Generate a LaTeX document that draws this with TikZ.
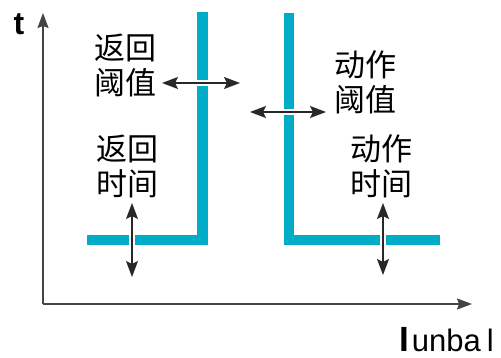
\documentclass[tikz,border=0pt]{standalone}
\usepackage{fontspec}
\setmainfont{Liberation Sans}
\newfontfamily\cjk{Noto Sans CJK SC}
\usetikzlibrary{arrows.meta}
\definecolor{cyanline}{RGB}{0,172,200}
\definecolor{axisgray}{RGB}{68,68,68}
\definecolor{arrowgray}{RGB}{40,40,40}
\begin{document}
\begin{tikzpicture}[x=1pt,y=-1pt,
  cjklabel/.style={font=\cjk\fontsize{31}{35}\selectfont, align=center, inner sep=0pt, text=black},
  blueL/.style={draw=cyanline, line width=10.5pt, line join=miter},
  axisline/.style={draw=axisgray, line width=1.6pt, -{Stealth[length=15pt,width=11pt,inset=2pt]}},
  dblarrow/.style={draw=arrowgray, line width=1.4pt, {Stealth[length=16pt,width=12pt,inset=3pt]}-{Stealth[length=16pt,width=12pt,inset=3pt]}},
  gapline/.style={draw=white, line width=6pt, shorten <=16pt, shorten >=16pt}]
\useasboundingbox (0,0) rectangle (501,358);

% blue characteristic lines
\draw[blueL] (202.5,12) -- (202.5,240) -- (87,240);
\draw[blueL] (289,13) -- (289,240) -- (440,240);

% axes
\coordinate (O) at (43,304);
\coordinate (ytip) at (43,13);
\coordinate (xtip) at (472,304);
\draw[axisline] (O) -- (ytip);
\draw[axisline] (O) -- (xtip);
\node[font=\bfseries\fontsize{32}{36}\selectfont, inner sep=0pt] (tlab) at (19,24) {t};
\node[inner sep=0pt, anchor=base west] (ilab) at (399,352)
  {{\bfseries\fontsize{35}{38}\selectfont I}\kern3pt{\fontsize{31}{34}\selectfont unba\kern6pt l}};

% labels
\node[cjklabel] (rthr) at (125,65) {返回\\阈值};
\node[cjklabel] (rtim) at (127,166) {返回\\时间};
\node[cjklabel] (othr) at (365,82) {动作\\阈值};
\node[cjklabel] (otim) at (381,166) {动作\\时间};

% double arrows
\coordinate (a1) at (162,83);  \coordinate (b1) at (240,83);
\coordinate (a2) at (250,112); \coordinate (b2) at (326,112);
\coordinate (a3) at (132,203); \coordinate (b3) at (132,277);
\coordinate (a4) at (383,203); \coordinate (b4) at (383,275);
\foreach \p/\q in {a1/b1,a2/b2,a3/b3,a4/b4}{
  \draw[gapline] (\p) -- (\q);
  \draw[dblarrow] (\p) -- (\q);
}
\end{tikzpicture}
\end{document}
